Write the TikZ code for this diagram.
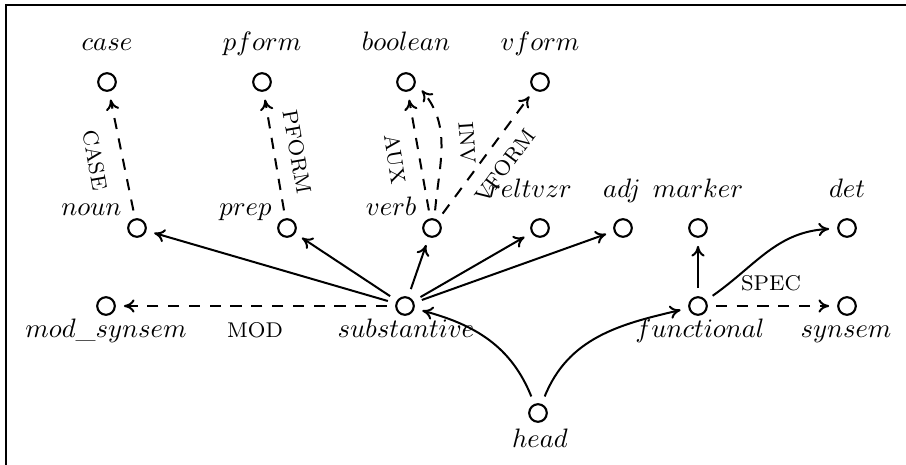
\documentclass[tikz,border=0pt]{standalone}
\usetikzlibrary{arrows.meta}
\begin{document}
\begin{tikzpicture}[x=0.375pt,y=0.375pt,
  st/.style={circle,draw,line width=0.8pt,minimum size=6.6pt,inner sep=0pt,outer sep=3.4pt},
  lab/.style={anchor=base,inner sep=0pt},
  edge/.style={line width=0.75pt,-{Computer Modern Rightarrow[length=4pt,width=5pt]}},
  dedge/.style={edge,dash pattern=on 4.2pt off 3.6pt},
  elab/.style={font=\footnotesize,inner sep=0pt}]
\clip (0,0) rectangle (906,-464);
\useasboundingbox (0,0) rectangle (906,-464);
\draw[line width=0.9pt] (6,-5) rectangle (940,-500);
% state nodes
\node[st] (case) at (107,-82) {};
\node[st] (pform) at (262,-82) {};
\node[st] (boolean) at (406,-82) {};
\node[st] (vform) at (540,-82) {};
\node[st] (noun) at (137,-228) {};
\node[st] (prep) at (287,-228) {};
\node[st] (verb) at (432,-228) {};
\node[st] (reltvzr) at (540,-228) {};
\node[st] (adj) at (623,-228) {};
\node[st] (marker) at (698,-228) {};
\node[st] (det) at (847,-228) {};
\node[st] (modsynsem) at (106,-306) {};
\node[st] (substantive) at (405,-306) {};
\node[st] (functional) at (698,-306) {};
\node[st] (synsem) at (847,-306) {};
\node[st] (head) at (538,-413) {};
% type labels
\node[lab] (caseL) at (107,-50) {$case$};
\node[lab] (pformL) at (262,-50) {$pform$};
\node[lab] (booleanL) at (406,-50) {$boolean$};
\node[lab] (vformL) at (540,-50) {$vform$};
\node[lab,anchor=base east] (nounL) at (122,-215) {$noun$};
\node[lab,anchor=base east] (prepL) at (272,-215) {$prep$};
\node[lab,anchor=base east] (verbL) at (417,-215) {$verb$};
\node[lab] (reltvzrL) at (530,-197) {$reltvzr$};
\node[lab] (adjL) at (622,-197) {$adj$};
\node[lab] (markerL) at (698,-197) {$marker$};
\node[lab] (detL) at (847,-197) {$det$};
\node[lab] (modsynsemL) at (106,-337) {$mod\_synsem$};
\node[lab] (substantiveL) at (406,-337) {$substantive$};
\node[lab] (functionalL) at (700,-337) {$functional$};
\node[lab] (synsemL) at (846,-337) {$synsem$};
\node[lab] (headL) at (540,-447) {$head$};
% edge labels
\node[elab,rotate=-80] (caseE) at (95,-160) {CASE};
\node[elab,rotate=-80] (pformE) at (297,-152) {PFORM};
\node[elab,rotate=-81] (auxE) at (395,-159) {AUX};
\node[elab,rotate=-86] (invE) at (467,-143) {INV};
\node[elab,rotate=53.5] (vformE) at (505,-166) {VFORM};
\node[elab] (modE) at (255,-330) {MOD};
\node[elab] (specE) at (771,-283) {SPEC};
% connectors
\draw[dedge] (noun) -- (case);
\draw[dedge] (prep) -- (pform);
\draw[dedge] (verb) -- (boolean);
\draw[dedge] (verb.80) to[out=85,in=-50] (boolean.-28);
\draw[dedge] (verb) -- (vform);
\draw[edge] (substantive) -- (noun);
\draw[edge] (substantive) -- (prep);
\draw[edge] (substantive) -- (verb);
\draw[edge] (substantive) -- (reltvzr);
\draw[edge] (substantive) -- (adj);
\draw[dedge] (substantive) -- (modsynsem);
\draw[edge] (head) to[out=112,in=-15] (substantive);
\draw[edge] (head) to[out=68,in=193] (functional);
\draw[edge] (functional) -- (marker);
\draw[edge] (functional) to[out=35,in=183] (det);
\draw[dedge] (functional) -- (synsem);
\end{tikzpicture}
\end{document}
